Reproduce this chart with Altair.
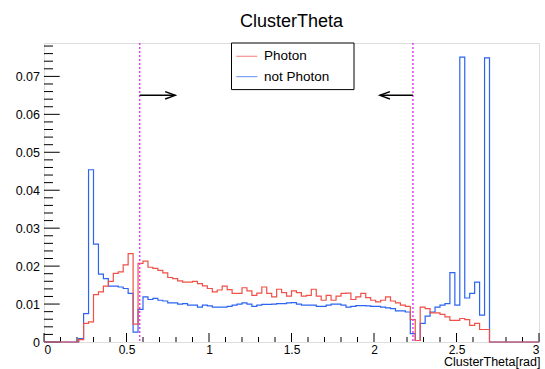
import altair as alt
import pandas as pd

# ---------------- data ----------------
bin_edges = [round(i * 0.03, 2) for i in range(101)]

photon = [0, 0, 0, 0, 0, 0, 0,
          0.0006, 0.0049, 0.0053, 0.0125, 0.0132, 0.0147, 0.0160, 0.0181, 0.0185, 0.0203,
          0.0233, 0.0047, 0.0207, 0.0213, 0.0197, 0.0194, 0.0189, 0.0182, 0.0170, 0.0167,
          0.0161, 0.0158, 0.0158, 0.0160, 0.0154, 0.0148, 0.0141, 0.0132, 0.0137, 0.0147,
          0.0138, 0.0128, 0.0128, 0.0143, 0.0135, 0.0123, 0.0129, 0.0145, 0.0128, 0.0119,
          0.0139, 0.0130, 0.0121, 0.0135, 0.0130, 0.0121, 0.0123, 0.0139, 0.0121, 0.0110,
          0.0123, 0.0110, 0.0121, 0.0128, 0.0129, 0.0112, 0.0119, 0.0128, 0.0117, 0.0110,
          0.0106, 0.0110, 0.0119, 0.0108, 0.0103, 0.0097, 0.0094, 0.0059, 0.0004, 0.0092,
          0.0088, 0.0077, 0.0077, 0.0073, 0.0066, 0.0057, 0.0057, 0.0062, 0.0059, 0.0044,
          0.0049, 0.0033, 0.0033,
          0, 0, 0, 0, 0, 0, 0, 0, 0, 0]

not_photon = [0, 0, 0, 0, 0, 0, 0,
              0.0009, 0.0075, 0.0454, 0.0258, 0.0179, 0.0167, 0.0147, 0.0147, 0.0145, 0.0141,
              0.0128, 0.0026, 0.0086, 0.0119, 0.0112, 0.0115, 0.0110, 0.0108, 0.0103, 0.0103,
              0.0100, 0.0101, 0.0097, 0.0097, 0.0092, 0.0097, 0.0095, 0.0092, 0.0092, 0.0092,
              0.0094, 0.0097, 0.0100, 0.0103, 0.0100, 0.0094, 0.0097, 0.0099, 0.0099, 0.0100,
              0.0101, 0.0101, 0.0103, 0.0104, 0.0100, 0.0097, 0.0097, 0.0097, 0.0094, 0.0094,
              0.0097, 0.0100, 0.0100, 0.0097, 0.0092, 0.0094, 0.0096, 0.0096, 0.0095, 0.0094,
              0.0094, 0.0092, 0.0090, 0.0088, 0.0082, 0.0082, 0.0079, 0.0022, 0.0004, 0.0049,
              0.0068, 0.0079, 0.0092, 0.0097, 0.0101, 0.0183, 0.0097, 0.0751, 0.0116, 0.0128,
              0.0158, 0.0071, 0.0749,
              0, 0, 0, 0, 0, 0, 0, 0, 0, 0]

series_names = ["Photon", "not Photon"]
series_colors = ["#ef5047", "#2b63f2"]

cut_values = [0.58, 2.236]
arrow_ends = [0.795, 2.036]
arrow_angles = [0, 180]
arrow_y = 0.065

y_major_ticks = [0, 0.01, 0.02, 0.03, 0.04, 0.05, 0.06, 0.07]
y_minor_ticks = [round(i * 0.002, 3) for i in range(40) if i % 5 != 0]
x_major_ticks = [0, 0.5, 1, 1.5, 2, 2.5, 3]
x_minor_ticks = [round(i * 0.1, 1) for i in range(31) if i % 5 != 0]

Y_MAX = 0.0788
W, H = 495, 299
FONT = "Liberation Sans"

# ---------------- tables ----------------
def hist_df(vals, name):
    return pd.DataFrame({"x": bin_edges, "y": list(vals) + [vals[-1]], "series": name})

df_red = hist_df(photon, "Photon")
df_blue = hist_df(not_photon, "not Photon")
df_cuts = pd.DataFrame({"x": cut_values})
df_arrows = pd.DataFrame({"x": cut_values, "x2": arrow_ends, "y": [arrow_y] * 2, "ang": arrow_angles})
df_ymaj = pd.DataFrame({"y": y_major_ticks})
df_ymin = pd.DataFrame({"y": y_minor_ticks})
df_xmaj = pd.DataFrame({"x": x_major_ticks})
df_xmin = pd.DataFrame({"x": x_minor_ticks})
df_box = pd.DataFrame({"k": [0]})

xscale = alt.Scale(domain=[0, 3], nice=False, zero=False)
yscale = alt.Scale(domain=[0, Y_MAX], nice=False)

x_axis = alt.Axis(values=x_major_ticks, format="~g", title="ClusterTheta[rad]",
                  ticks=False, domain=False, grid=False, labelPadding=2,
                  labelFontSize=12, labelFont=FONT, labelColor="black",
                  titleFont=FONT, titleFontSize=12.5, titleFontWeight="normal", titleColor="black",
                  titleAnchor="end", titleAlign="right", titleBaseline="alphabetic",
                  titleX=W + 1, titleY=23.5)
y_axis = alt.Axis(values=y_major_ticks, format="~g", title=None,
                  ticks=False, domain=False, grid=False, labelPadding=4.5,
                  labelFontSize=12.5, labelFont=FONT, labelColor="black")

color_scale = alt.Scale(domain=series_names, range=series_colors)
legend = alt.Legend(orient="none", legendX=189.5, legendY=0, title=None,
                    symbolType="stroke", symbolSize=441, symbolStrokeWidth=1.2,
                    symbolOpacity=0.6, labelFontSize=13.5, labelFont=FONT,
                    labelColor="black", labelOffset=5.6, rowPadding=2.3, padding=1.8)

# legend frame (drawn under the legend)
box = alt.Chart(df_box).mark_rect(fill="white", stroke="black", strokeWidth=1).encode(
    x=alt.value(187.5), x2=alt.value(310), y=alt.value(0), y2=alt.value(46.6))

blue = alt.Chart(df_blue).mark_line(interpolate="step-after", strokeWidth=1.2).encode(
    x=alt.X("x:Q", scale=xscale, axis=x_axis),
    y=alt.Y("y:Q", scale=yscale, axis=y_axis),
    color=alt.Color("series:N", scale=color_scale, legend=legend),
)
red = alt.Chart(df_red).mark_line(interpolate="step-after", strokeWidth=1.2).encode(
    x=alt.X("x:Q", scale=xscale),
    y=alt.Y("y:Q", scale=yscale),
    color=alt.Color("series:N", scale=color_scale, legend=legend),
)

cuts = alt.Chart(df_cuts).mark_rule(color="#e040f0", strokeDash=[2, 2], strokeWidth=1.5).encode(
    x=alt.X("x:Q", scale=xscale))

arrow_lines = alt.Chart(df_arrows).mark_rule(color="black", strokeWidth=1.5).encode(
    x=alt.X("x:Q", scale=xscale), x2="x2:Q", y=alt.Y("y:Q", scale=yscale))
arrow_heads = alt.Chart(df_arrows).mark_point(
    shape="M-1,-0.37L0,0L-1,0.37", filled=False, color="black", strokeWidth=1.5,
    size=400, opacity=1).encode(
    x=alt.X("x2:Q", scale=xscale), y=alt.Y("y:Q", scale=yscale),
    angle=alt.Angle("ang:Q", scale=None))

ymaj = alt.Chart(df_ymaj).mark_rule(color="black", strokeWidth=1).encode(
    y=alt.Y("y:Q", scale=yscale), x=alt.value(0), x2=alt.value(15.7))
ymin = alt.Chart(df_ymin).mark_rule(color="black", strokeWidth=1).encode(
    y=alt.Y("y:Q", scale=yscale), x=alt.value(0), x2=alt.value(9))
xmaj = alt.Chart(df_xmaj).mark_rule(color="black", strokeWidth=1).encode(
    x=alt.X("x:Q", scale=xscale), y=alt.value(H), y2=alt.value(H - 9))
xmin = alt.Chart(df_xmin).mark_rule(color="black", strokeWidth=1).encode(
    x=alt.X("x:Q", scale=xscale), y=alt.value(H), y2=alt.value(H - 5))

chart = alt.layer(
    box, ymaj, ymin, xmaj, xmin, blue, red, cuts, arrow_lines, arrow_heads
).resolve_scale(color="shared").properties(
    width=W, height=H,
    title=alt.TitleParams("ClusterTheta", fontSize=18, font=FONT, fontWeight="normal",
                          color="black", anchor="middle", baseline="alphabetic",
                          offset=17.5, dy=20),
    autosize=alt.AutoSizeParams(type="none"),
    padding={"left": 44, "top": 43, "right": 6, "bottom": 27},
).configure_view(stroke="black", strokeWidth=1).configure(background="white")

chart.save("out.html", embed_options={"renderer": "svg", "actions": False})
